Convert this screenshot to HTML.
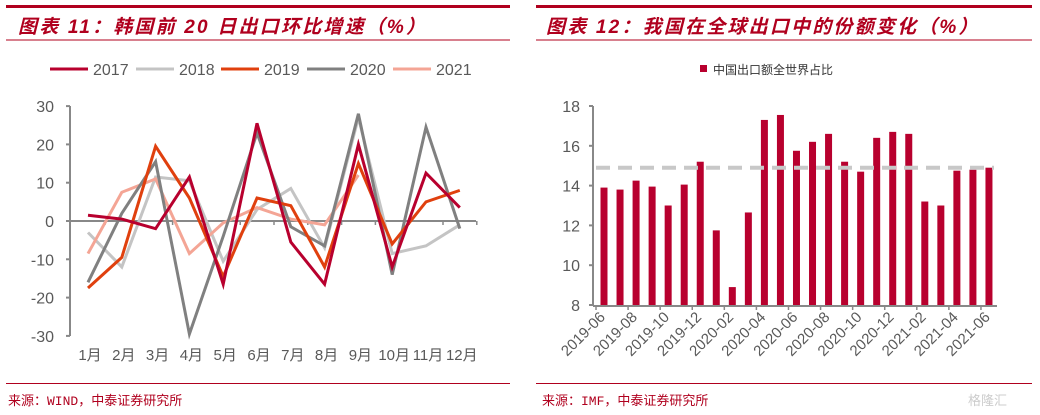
<!DOCTYPE html>
<html><head><meta charset="utf-8"><style>
body{margin:0;width:1040px;height:415px;background:#fff;overflow:hidden;font-family:"Liberation Sans","Noto Sans CJK SC",sans-serif}
svg{position:absolute;left:0;top:0}
</style></head><body>
<svg width="1040" height="415">
<g>
<rect x="6" y="5" width="504" height="3" fill="#B0001E"/>
<text x="18" y="33" font-size="19" font-style="italic" font-weight="bold" fill="#B0001E" letter-spacing="2.2">图表 11：韩国前 20 日出口环比增速（%）</text>
<rect x="6" y="39.5" width="504" height="1" fill="#B0001E"/>
</g>
<g>
<rect x="536" y="5" width="496" height="3" fill="#B0001E"/>
<text x="546" y="33" font-size="19" font-style="italic" font-weight="bold" fill="#B0001E" letter-spacing="2.2">图表 12：我国在全球出口中的份额变化（%）</text>
<rect x="536" y="39.5" width="496" height="1" fill="#B0001E"/>
</g>
<g id="left"></g>
<g id="right"></g>
<rect x="6" y="383" width="504" height="1" fill="#B0001E"/>
<rect x="536" y="383" width="496" height="1" fill="#B0001E"/>
<text x="8" y="405" font-size="13" fill="#B0001E" font-family="Liberation Mono,'Noto Sans CJK SC',monospace">来源：WIND，中泰证券研究所</text>
<text x="542" y="405" font-size="13" fill="#B0001E" font-family="Liberation Mono,'Noto Sans CJK SC',monospace">来源：IMF，中泰证券研究所</text>
<text x="968" y="405" font-size="13" fill="#ccc">格隆汇</text>
</svg>
<script>
const months=["1月","2月","3月","4月","5月","6月","7月","8月","9月","10月","11月","12月"];
const yTicksL=[30,20,10,0,-10,-20,-30];
const s2017=[1.5,0.5,-2,11.5,-16.5,25.5,-5.5,-16.5,20,-12,12.5,3.5];
const s2018=[-3,-12,11.5,10.5,-10.5,3,8.5,-7,27,-8.5,-6.5,-1];
const s2019=[-17.5,-9.5,19.5,6,-14.5,6,4,-12,15,-6,5,8];
const s2020=[-16,2,15.5,-29.5,-4,23,-1.5,-6.5,28,-14,24.5,-2];
const s2021=[-8.5,7.5,11,-8.5,-0.5,3.5,0.5,-1,12];
const seriesNames=["2017","2018","2019","2020","2021"];
const periods=["2019-06","2019-07","2019-08","2019-09","2019-10","2019-11","2019-12","2020-01","2020-02","2020-03","2020-04","2020-05","2020-06","2020-07","2020-08","2020-09","2020-10","2020-11","2020-12","2021-01","2021-02","2021-03","2021-04","2021-05","2021-06"];
const shares=[13.9,13.8,14.25,13.95,13.0,14.05,15.2,11.75,8.9,12.65,17.3,17.55,15.75,16.2,16.6,15.2,14.7,16.4,16.7,16.6,13.2,13.0,14.75,14.8,14.9];
const avgLine=14.9;
const yTicksR=[8,10,12,14,16,18];

const NS="http://www.w3.org/2000/svg";
function mk(p,t,a){const e=document.createElementNS(NS,t);for(const k in a)e.setAttribute(k,a[k]);p.appendChild(e);return e;}
// left
const L=document.getElementById('left');
const yL=v=>221-v*3.83, xL=i=>88+i*33.8;
mk(L,'line',{x1:70,y1:106,x2:70,y2:336,stroke:'#888','stroke-width':2});
yTicksL.forEach(v=>{mk(L,'line',{x1:66,y1:yL(v),x2:70,y2:yL(v),stroke:'#888','stroke-width':2});
const t=mk(L,'text',{x:54,y:yL(v)+6,'font-size':16,fill:'#595959','text-anchor':'end'});t.textContent=v;

});
mk(L,'line',{x1:70,y1:221,x2:476,y2:221,stroke:'#888','stroke-width':2});
months.forEach((m,i)=>{const x=xL(i)+17;mk(L,'line',{x1:x,y1:221,x2:x,y2:225,stroke:'#888','stroke-width':1.5});
const t=mk(L,'text',{x:xL(i)+2,y:360,'font-size':15,fill:'#595959','text-anchor':'middle'});t.textContent=m;

});
const cols=['#B8002E','#C4C4C4','#E0400E','#808080','#F4A595'];
const data=[s2017,s2018,s2019,s2020,s2021];
const order=[1,4,3,2,0];
order.forEach(k=>{const pl=mk(L,'polyline',{points:data[k].map((v,i)=>xL(i)+','+yL(v)).join(' '),fill:'none',stroke:cols[k],'stroke-width':3,'stroke-linejoin':'miter'});

});
const lx=[50,136,221,307,393];
seriesNames.forEach((n,k)=>{const g=mk(L,'g',{});


mk(g,'line',{x1:lx[k],y1:69,x2:lx[k]+38,y2:69,stroke:cols[k],'stroke-width':3});
const t=mk(g,'text',{x:lx[k]+43,y:75,'font-size':16,fill:'#595959'});t.textContent=n;});
// right
const R=document.getElementById('right');
const yR=v=>305-(v-8)*19.9, xR=i=>604+i*16.04;
mk(R,'line',{x1:593,y1:106,x2:593,y2:306,stroke:'#888','stroke-width':2});
yTicksR.forEach(v=>{mk(R,'line',{x1:589,y1:yR(v),x2:593,y2:yR(v),stroke:'#888','stroke-width':2});
const t=mk(R,'text',{x:580,y:yR(v)+6,'font-size':16,fill:'#595959','text-anchor':'end'});t.textContent=v;

});
mk(R,'line',{x1:593,y1:306,x2:997,y2:306,stroke:'#888','stroke-width':2});
shares.forEach((v,i)=>{const r=mk(R,'rect',{x:xR(i)-3.5,y:yR(v),width:7,height:305-yR(v),fill:'#B8002E'});

});
const dl=mk(R,'line',{x1:596,y1:yR(avgLine),x2:994,y2:yR(avgLine),stroke:'#C8C8C8','stroke-width':4,'stroke-dasharray':'14,8'});


periods.forEach((p,i)=>{if(i%2)return;const x=xR(i)-8;
mk(R,'line',{x1:x,y1:306,x2:x,y2:310,stroke:'#888','stroke-width':1.5});
const t=mk(R,'text',{x:x+10,y:318,'font-size':15,fill:'#595959','text-anchor':'end',transform:`rotate(-45 ${x+10} 318)`});t.textContent=p;

});
const lg=mk(R,'g',{});


mk(lg,'rect',{x:700,y:65,width:7,height:7,fill:'#B8002E'});
const lt=mk(lg,'text',{x:713,y:74,'font-size':12,fill:'#333'});lt.textContent='中国出口额全世界占比';
</script>
</body></html>
